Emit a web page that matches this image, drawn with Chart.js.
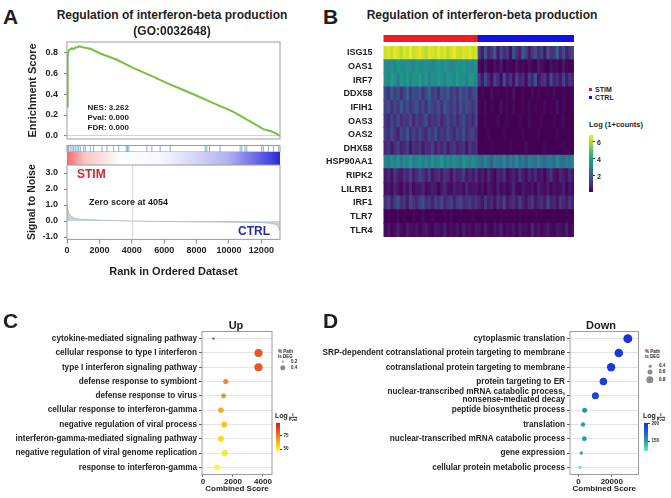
<!DOCTYPE html>
<html>
<head>
<meta charset="utf-8">
<title>Regulation of interferon-beta production</title>
<script src="https://cdn.jsdelivr.net/npm/chart.js@4.4.1/dist/chart.umd.min.js"></script>
<style>
  html, body { margin: 0; padding: 0; background: #fff; }
  #fig { position: relative; width: 671px; height: 498px; overflow: hidden; background: #fff;
         font-family: Arial, "Liberation Sans", Helvetica, sans-serif; color: #1e1e1e; }
  #fig canvas { position: absolute; }
  .t { position: absolute; white-space: nowrap; font-weight: bold; line-height: 1; }
  .mid { transform: translateY(-50%); }
  .ctr { transform: translate(-50%, -50%); }
  .letter { font-size: 21px; }
  .sq { position: absolute; width: 3px; height: 3px; }
  .dot { position: absolute; border-radius: 50%; background: #8a8a8a; transform: translate(-50%, -50%); }
  .frac { display: inline-block; vertical-align: -3px; font-size: 4px; text-align: center; margin-left: 1px; }
  .frac span { display: block; line-height: 1.1; }
  .frac .num { border-bottom: 0.5px solid #333; }
</style>
</head>
<body>
<div id="fig">
  <div id="charts"></div>

  <!-- panel letters -->
  <div class="t letter mid" style="left:3px; top:16px">A</div>
  <div class="t letter mid" style="left:323px; top:16px">B</div>
  <div class="t letter mid" style="left:3px; top:320px">C</div>
  <div class="t letter mid" style="left:323px; top:320px">D</div>

  <!-- panel A texts -->
  <div class="t ctr" style="left:172px; top:15px; font-size:12px">Regulation of interferon-beta production</div>
  <div class="t ctr" style="left:172px; top:30.5px; font-size:12px">(GO:0032648)</div>
  <div class="t mid" style="left:87.5px; top:107.7px; font-size:8px">NES: 3.262</div>
  <div class="t mid" style="left:87.5px; top:117.7px; font-size:8px">Pval: 0.000</div>
  <div class="t mid" style="left:87.5px; top:127.7px; font-size:8px">FDR: 0.000</div>
  <div class="t mid" style="left:77px; top:174px; font-size:12px; color:#e3232b">STIM</div>
  <div class="t mid" style="left:89px; top:202px; font-size:9px">Zero score at 4054</div>
  <div class="t mid" style="left:238px; top:231px; font-size:12px; color:#2b2ba8">CTRL</div>

  <!-- panel B texts -->
  <div class="t ctr" style="left:482px; top:15px; font-size:12px">Regulation of interferon-beta production</div>
  <div class="sq" style="left:589px; top:87.5px; background:#ee1c25"></div>
  <div class="t mid" style="left:595px; top:89px; font-size:7px">STIM</div>
  <div class="sq" style="left:589px; top:95.5px; background:#1010e8"></div>
  <div class="t mid" style="left:595px; top:97px; font-size:7px">CTRL</div>
  <div class="t mid" style="left:589px; top:125px; font-size:7.5px">Log (1+counts)</div>

  <!-- panel C / D texts -->
  <div class="t ctr" style="left:236px; top:325px; font-size:11px">Up</div>
  <div class="t ctr" style="left:601px; top:325px; font-size:11px">Down</div>
  <div class="t mid" style="left:278px; top:352px; font-size:4.5px">% Path</div>
  <div class="t mid" style="left:278px; top:357px; font-size:4.5px">is DEG</div>
  <div class="t mid" style="left:645px; top:352px; font-size:4.5px">% Path</div>
  <div class="t mid" style="left:645px; top:357px; font-size:4.5px">is DEG</div>
  <div class="t mid" style="left:275px; top:417px; font-size:7px">Log<span class="frac"><span class="num">1</span><span>Pval</span></span></div>
  <div class="t mid" style="left:643px; top:417px; font-size:7px">Log<span class="frac"><span class="num">1</span><span>Pval</span></span></div>
</div>

<script>
// ---------- data: panel A (GSEA) ----------
const rankMax = 13150;
const esRank  = [0, 20, 60, 120, 200, 300, 400, 500, 650, 750, 900, 1100, 1450, 2050, 3080, 4110, 5140, 6170, 7190, 8220, 9250, 10280, 11300, 12120, 12600, 13000, 13150];
const esValue = [0.28, 0.55, 0.78, 0.82, 0.83, 0.84, 0.83, 0.845, 0.85, 0.858, 0.852, 0.845, 0.835, 0.79, 0.73, 0.65, 0.58, 0.505, 0.44, 0.37, 0.30, 0.23, 0.14, 0.065, 0.045, 0.015, 0.0];
const esTicks = [0, 0.2, 0.4, 0.6, 0.8];
const hitRanks = [40, 100, 200, 310, 410, 510, 620, 720, 820, 1030, 1130, 1440, 1640, 2160, 2470, 2880, 3190, 3660, 3740, 3820,
                  4930, 5240, 5750, 6370, 8530, 8630, 8800, 9450, 10690, 10790, 10990, 11100, 12020, 12120, 12430, 12740, 13050];
const s2nRank  = [0, 30, 100, 200, 400, 700, 1000, 2000, 3000, 4054, 5000, 7000, 9000, 11000, 12000, 12600, 12900, 13050, 13150];
const s2nValue = [1.0, 0.75, 0.5, 0.35, 0.2, 0.12, 0.09, 0.05, 0.02, 0, -0.02, -0.04, -0.06, -0.08, -0.1, -0.14, -0.22, -0.35, -0.6];
const s2nTicks = [-1, 0, 1, 2, 3];
const rankTicks = [0, 2000, 4000, 6000, 8000, 10000, 12000];
const zeroScoreRank = 4054;

// ---------- data: panel B (heatmap) ----------
const genes = ['ISG15', 'OAS1', 'IRF7', 'DDX58', 'IFIH1', 'OAS3', 'OAS2', 'DHX58', 'HSP90AA1', 'RIPK2', 'LILRB1', 'IRF1', 'TLR7', 'TLR4'];
const stimExpr = [
  [6.3,6.5,6.2,6.6,6.4,6.1,6.5,6.3,6.7,6.2,6.4,6.6,6.3,6.0,6.5,6.4,6.2,6.6,6.3,6.5,6.1,6.4,6.7,6.3,6.2,6.5,6.4,6.6,6.2,6.4],
  [3.4,3.3,3.5,3.2,3.6,3.4,3.3,3.5,3.4,3.2,3.6,3.3,3.4,3.5,3.3,3.2,3.4,3.6,3.3,3.5,3.4,3.2,3.3,3.5,3.4,3.6,3.3,3.4,3.2,3.5],
  [3.5,3.2,3.8,3.4,3.0,3.6,3.3,3.7,3.1,3.5,3.4,3.8,3.2,3.6,3.0,3.5,3.3,3.7,3.4,3.1,3.6,3.5,3.2,3.8,3.3,3.4,3.0,3.6,3.5,3.2],
  [1.6,1.1,2.0,1.3,1.8,1.0,1.5,2.2,1.2,1.7,1.4,1.9,1.1,1.6,2.1,1.3,1.5,1.0,1.8,1.4,2.0,1.2,1.6,1.1,1.9,1.4,1.7,1.0,1.5,1.8],
  [1.4,1.8,1.0,1.6,1.2,2.0,1.3,1.7,1.1,1.5,1.9,1.2,1.6,1.0,1.8,1.4,1.3,1.7,1.1,1.9,1.5,1.2,1.6,1.0,1.8,1.3,1.7,1.4,1.1,1.6],
  [1.2,0.8,1.5,1.0,1.7,0.9,1.3,1.1,1.6,0.8,1.4,1.0,1.2,1.8,0.9,1.3,1.1,1.5,0.8,1.2,1.6,1.0,1.4,0.9,1.3,1.7,1.0,1.2,0.8,1.5],
  [1.3,0.9,1.6,1.1,0.7,1.5,1.2,1.8,0.9,1.4,1.0,1.6,1.2,0.8,1.5,1.1,1.7,0.9,1.3,1.0,1.6,1.2,0.8,1.4,1.1,1.7,0.9,1.3,1.5,1.0],
  [0.8,1.2,0.6,1.0,1.4,0.7,0.9,1.3,0.5,1.1,0.8,1.2,0.6,1.0,0.9,1.4,0.7,1.1,0.8,1.3,0.6,1.0,1.2,0.7,0.9,1.1,0.5,1.3,0.8,1.0],
  [3.2,2.9,3.4,3.0,3.5,2.8,3.3,3.1,3.6,2.9,3.2,3.4,3.0,3.3,2.8,3.5,3.1,3.2,3.6,2.9,3.3,3.0,3.4,3.1,2.8,3.5,3.2,3.0,3.3,3.1],
  [0.6,0.9,0.4,1.2,0.7,0.5,1.0,0.8,1.4,0.6,0.9,1.5,1.1,0.7,1.3,0.5,0.8,1.0,0.6,1.2,0.9,0.4,1.1,0.7,0.8,1.3,0.5,0.9,0.6,1.0],
  [0.4,0.6,0.3,0.8,0.5,0.2,0.7,0.4,0.9,0.3,0.6,0.5,0.8,0.3,0.4,0.7,0.5,0.2,0.6,0.9,0.4,0.3,0.7,0.5,0.6,0.3,0.8,0.4,0.5,0.6],
  [1.0,1.6,0.7,1.3,1.8,0.9,1.2,0.6,1.5,1.1,0.8,1.4,1.7,0.9,1.2,0.7,1.3,1.0,1.6,0.8,1.1,1.4,0.7,1.2,1.5,0.9,1.0,1.3,0.8,1.1],
  [0.1,0.2,0.1,0.1,0.3,0.1,0.2,0.1,0.1,0.2,0.1,0.1,0.3,0.1,0.1,0.2,0.1,0.1,0.1,0.2,0.1,0.3,0.1,0.1,0.2,0.1,0.1,0.1,0.2,0.1],
  [0.3,0.5,0.2,0.4,0.7,0.3,0.2,0.6,0.4,0.3,0.5,0.2,0.4,0.6,0.3,0.2,0.5,0.4,0.3,0.7,0.2,0.4,0.3,0.5,0.2,0.6,0.3,0.4,0.2,0.5]
];
const ctrlExpr = [
  [1.4,0.6,1.9,0.8,1.2,2.1,0.5,1.6,0.9,1.3,0.4,1.8,1.1,0.7,2.0,1.5,0.6,1.2,1.7,0.9,1.4,0.5,1.9,1.0,1.3,2.2,0.8,1.6,0.7,1.1,1.8],
  [0.3,0.1,0.5,0.2,0.1,0.4,0.2,0.6,0.1,0.3,0.2,0.1,0.5,0.2,0.3,0.1,0.4,0.2,0.1,0.6,0.3,0.2,0.1,0.4,0.2,0.3,0.1,0.5,0.2,0.1,0.3],
  [1.2,0.5,1.6,0.8,0.4,1.4,0.9,0.3,1.7,0.6,1.1,0.4,1.5,0.7,1.0,0.3,1.3,0.8,1.8,0.5,0.9,1.2,0.4,1.6,0.7,1.0,0.5,1.4,0.6,1.1,0.8],
  [0.1,0.2,0.1,0.1,0.3,0.1,0.2,0.1,0.1,0.2,0.1,0.4,0.1,0.1,0.2,0.1,0.1,0.3,0.1,0.2,0.1,0.1,0.2,0.1,0.3,0.1,0.1,0.2,0.1,0.1,0.2],
  [0.2,0.1,0.3,0.1,0.2,0.1,0.1,0.4,0.1,0.2,0.1,0.3,0.1,0.1,0.2,0.1,0.3,0.1,0.2,0.1,0.1,0.3,0.1,0.2,0.1,0.4,0.1,0.2,0.1,0.1,0.2],
  [0.1,0.1,0.2,0.1,0.1,0.1,0.3,0.1,0.1,0.2,0.1,0.1,0.1,0.2,0.1,0.1,0.3,0.1,0.1,0.1,0.2,0.1,0.1,0.1,0.2,0.1,0.1,0.3,0.1,0.1,0.1],
  [0.1,0.1,0.1,0.2,0.1,0.1,0.1,0.1,0.2,0.1,0.1,0.1,0.1,0.1,0.2,0.1,0.1,0.1,0.1,0.2,0.1,0.1,0.1,0.1,0.1,0.2,0.1,0.1,0.1,0.1,0.1],
  [0.1,0.1,0.1,0.1,0.2,0.1,0.1,0.1,0.1,0.1,0.2,0.1,0.1,0.1,0.1,0.3,0.1,0.1,0.1,0.1,0.1,0.2,0.1,0.1,0.1,0.1,0.1,0.2,0.1,0.1,0.1],
  [2.8,2.4,3.1,2.6,2.2,3.0,2.7,2.5,3.2,2.3,2.9,2.6,3.3,2.4,2.8,2.2,3.0,2.7,2.5,3.1,2.6,2.3,2.9,2.8,2.4,3.2,2.6,2.5,3.0,2.7,3.3],
  [0.4,0.7,0.3,0.9,0.5,0.2,0.8,0.6,1.0,0.3,0.5,0.7,0.4,1.1,0.6,0.3,0.8,0.5,0.9,0.4,0.6,0.2,0.7,1.0,0.5,0.3,0.8,0.6,0.4,0.9,0.5],
  [0.3,0.5,0.2,0.6,0.4,0.2,0.7,0.3,0.5,0.2,0.4,0.8,0.3,0.2,0.6,0.4,0.3,0.5,0.2,0.7,0.4,0.3,0.6,0.2,0.5,0.3,0.4,0.7,0.2,0.5,0.3],
  [0.8,0.5,1.2,0.6,0.9,0.4,1.1,0.7,1.4,0.5,0.8,1.0,0.6,1.3,0.7,0.4,0.9,1.2,0.5,0.8,1.0,0.6,1.5,0.7,0.9,0.5,1.1,0.8,0.6,1.2,0.7],
  [0.1,0.1,0.2,0.1,0.1,0.1,0.1,0.2,0.1,0.1,0.1,0.1,0.1,0.2,0.1,0.1,0.1,0.1,0.2,0.1,0.1,0.1,0.1,0.1,0.2,0.1,0.1,0.1,0.2,0.1,0.1],
  [0.4,0.2,0.6,0.3,0.2,0.5,0.3,0.7,0.2,0.4,0.3,0.5,0.2,0.6,0.3,0.4,0.2,0.8,0.3,0.5,0.2,0.4,0.6,0.3,0.2,0.5,0.4,0.3,0.7,0.2,0.4]
];
const heatTicks = [2, 4, 6];

// ---------- data: panels C and D (enrichment dot plots) ----------
const upTerms = ['cytokine-mediated signaling pathway', 'cellular response to type I interferon', 'type I interferon signaling pathway',
  'defense response to symbiont', 'defense response to virus', 'cellular response to interferon-gamma',
  'negative regulation of viral process', 'interferon-gamma-mediated signaling pathway',
  'negative regulation of viral genome replication', 'response to interferon-gamma'];
const upScore  = [700, 3700, 3700, 1520, 1380, 1200, 1420, 1200, 1460, 950];
const upPctDEG = [0.19, 0.58, 0.58, 0.39, 0.37, 0.40, 0.43, 0.43, 0.46, 0.41];
const upLogP   = [97, 84, 84, 72, 71, 66, 60, 56, 52, 49];
const upTicks  = [0, 2000, 4000];

const downTerms = ['cytoplasmic translation', 'SRP-dependent cotranslational protein targeting to membrane',
  'cotranslational protein targeting to membrane', 'protein targeting to ER',
  ['nuclear-transcribed mRNA catabolic process,', 'nonsense-mediated decay'], 'peptide biosynthetic process',
  'translation', 'nuclear-transcribed mRNA catabolic process', 'gene expression', 'cellular protein metabolic process'];
const downScore  = [29600, 24200, 19600, 15000, 10200, 3800, 2800, 3600, 1800, 1000];
const downPctDEG = [0.93, 0.90, 0.88, 0.82, 0.77, 0.60, 0.55, 0.58, 0.48, 0.45];
const downLogP   = [200, 198, 196, 194, 191, 152, 150, 151, 145, 126];
const downTicks  = [0, 20000];

// ---------- colour helpers ----------
const viridis = ['#440154', '#482878', '#3e4989', '#31688e', '#26828e', '#1f9e89', '#35b779', '#6ece58', '#b5de2b', '#fde725'];
const heatStops = viridis.map((c, i) => [0.1 + i * 6.7 / 9, c]);
const upStops = [[47, '#ffff2e'], [61, '#fbbf24'], [75, '#f47a20'], [99, '#d7191c']];
const downStops = [[122, '#5ff5c0'], [150, '#2a9ca5'], [175, '#1f63c6'], [202, '#1a2ee0']];

function hexToRgb(h) {
  const n = parseInt(h.slice(1), 16);
  return [n >> 16, (n >> 8) & 255, n & 255];
}
function mix(a, b, f) {
  const x = hexToRgb(a), y = hexToRgb(b);
  return 'rgb(' + x.map((v, i) => Math.round(v + (y[i] - v) * f)).join(',') + ')';
}
function scaleColor(stops, v) {
  if (v <= stops[0][0]) return stops[0][1];
  for (let i = 1; i < stops.length; i++) {
    if (v <= stops[i][0]) {
      const [v0, c0] = stops[i - 1], [v1, c1] = stops[i];
      return mix(c0, c1, (v - v0) / (v1 - v0));
    }
  }
  return stops[stops.length - 1][1];
}
const upRadius = p => 1.2 + (p - 0.2) * 7.5;
const downRadius = p => 1.3 + (p - 0.4) * 6;

// ---------- chart helpers ----------
Chart.defaults.font.family = 'Arial, "Liberation Sans", Helvetica, sans-serif';
Chart.defaults.font.weight = 'bold';
Chart.defaults.color = '#1e1e1e';
Chart.defaults.plugins.legend.display = false;
Chart.defaults.plugins.tooltip.enabled = false;

function addCanvas(left, top, w, h) {
  const c = document.createElement('canvas');
  c.width = w; c.height = h;
  Object.assign(c.style, { left: left + 'px', top: top + 'px', width: w + 'px', height: h + 'px' });
  document.getElementById('charts').appendChild(c);
  return c;
}
const fixedTicks = values => s => { s.ticks = values.map(v => ({ value: v })); };
const fixWidth = w => s => { s.width = w; s.paddingTop = 0; s.paddingBottom = 0; };
const fixHeight = h => s => { s.height = h; s.paddingLeft = 0; s.paddingRight = 0; };
const base = { responsive: false, animation: false, devicePixelRatio: 1 };

// box around the plotting area
const framePlugin = {
  id: 'frame',
  afterDraw(chart, args, opts) {
    const a = chart.chartArea, ctx = chart.ctx;
    ctx.save();
    ctx.strokeStyle = opts.color || '#9c9c9c';
    ctx.lineWidth = opts.width || 1;
    ctx.strokeRect(a.left, a.top, a.right - a.left, a.bottom - a.top);
    ctx.restore();
  }
};

// ---------- A1: enrichment score ----------
new Chart(addCanvas(0, 30, 300, 110), {
  type: 'line',
  data: { datasets: [{
    data: esRank.map((r, i) => ({ x: r, y: esValue[i] })),
    borderColor: '#79bf41', borderWidth: 2, pointRadius: 0, tension: 0
  }] },
  options: { ...base,
    layout: { padding: { left: 22, right: 20, top: 12, bottom: 1 } },
    scales: {
      x: { type: 'linear', min: 0, max: rankMax, display: false },
      y: { min: -0.03, max: 0.9, afterBuildTicks: fixedTicks(esTicks), afterFit: fixWidth(45),
           ticks: { font: { size: 9 }, padding: 6, callback: v => v.toFixed(1) },
           grid: { color: c => (c.tick && c.tick.value === 0) ? '#d2d2d2' : 'rgba(0,0,0,0)', tickColor: '#888', tickLength: 3 },
           border: { display: false },
           title: { display: true, text: 'Enrichment Score', font: { size: 11 } } }
    }
  },
  plugins: [framePlugin]
});

// ---------- A2: hit positions + ranked list colour bar ----------
const rankBarPlugin = {
  id: 'rankBar',
  afterDraw(chart) {
    const { ctx, chartArea: a } = chart;
    const g = ctx.createLinearGradient(a.left, 0, a.right, 0);
    g.addColorStop(0, '#f26a6a'); g.addColorStop(0.08, '#f8c2c2'); g.addColorStop(0.25, '#ffffff');
    g.addColorStop(0.45, '#f6f6ff'); g.addColorStop(0.75, '#b4b4f2'); g.addColorStop(0.95, '#4848e2'); g.addColorStop(1, '#2828d6');
    ctx.save();
    ctx.fillStyle = g;
    ctx.fillRect(a.left, a.bottom, a.right - a.left, 13);
    ctx.restore();
  }
};
new Chart(addCanvas(0, 139, 300, 27), {
  type: 'scatter',
  data: { datasets: [{
    data: hitRanks.map(r => ({ x: r, y: 0.5 })),
    pointStyle: 'line', rotation: 90, radius: 5.5, borderColor: '#84b2d6', borderWidth: 1
  }] },
  options: { ...base,
    layout: { padding: { left: 67, right: 20, top: 2, bottom: 14 } },
    scales: {
      x: { type: 'linear', min: 0, max: rankMax, display: false },
      y: { min: 0, max: 1, display: false }
    }
  },
  plugins: [framePlugin, rankBarPlugin]
});

// ---------- A3: signal to noise ----------
const s2nMin = -1.15, s2nMax = 3.5;
new Chart(addCanvas(0, 150, 300, 133), {
  type: 'line',
  data: { datasets: [
    { data: [{ x: zeroScoreRank, y: s2nMin }, { x: zeroScoreRank, y: s2nMax }],
      borderColor: '#d6d6d6', borderWidth: 1, pointRadius: 0 },
    { data: s2nRank.map((r, i) => ({ x: r, y: s2nValue[i] })),
      borderColor: '#b2bdca', borderWidth: 1, backgroundColor: '#c9d2dd', fill: 'origin', pointRadius: 0, tension: 0 }
  ] },
  options: { ...base,
    layout: { padding: { left: 22, right: 20, top: 15, bottom: 0 } },
    scales: {
      x: { type: 'linear', min: 0, max: rankMax, afterBuildTicks: fixedTicks(rankTicks), afterFit: fixHeight(43.6),
           ticks: { font: { size: 9 }, padding: 2, maxRotation: 0, autoSkip: false, callback: v => String(v) },
           grid: { drawOnChartArea: false, tickColor: '#888', tickLength: 4 },
           border: { display: false },
           title: { display: true, text: 'Rank in Ordered Dataset', font: { size: 11 } } },
      y: { min: s2nMin, max: s2nMax, afterBuildTicks: fixedTicks(s2nTicks), afterFit: fixWidth(45),
           ticks: { font: { size: 9 }, padding: 6, callback: v => v.toFixed(1) },
           grid: { drawOnChartArea: false, tickColor: '#888', tickLength: 3 },
           border: { display: false },
           title: { display: true, text: 'Signal to Noise', font: { size: 10.5 } } }
    }
  },
  plugins: [framePlugin]
});

// ---------- B: heatmap ----------
const nStim = stimExpr[0].length, nCtrl = ctrlExpr[0].length, nCells = nStim + nCtrl;
const cellValue = (c, g) => (c < nStim ? stimExpr[g][c] : ctrlExpr[g][c - nStim]);
const heatDatasets = [];
for (let c = 0; c < nCells; c++) {
  heatDatasets.push({
    data: genes.map(() => [c, c + 1]),
    backgroundColor: ctx => scaleColor(heatStops, cellValue(c, ctx.dataIndex)),
    borderWidth: 0, inflateAmount: 0.5, grouped: false, barPercentage: 1, categoryPercentage: 1
  });
}
const groupBarPlugin = {
  id: 'groupBar',
  afterDraw(chart) {
    const { ctx, chartArea: a, scales: { x } } = chart;
    const x0 = x.getPixelForValue(0), xm = x.getPixelForValue(nStim), x1 = x.getPixelForValue(nCells);
    ctx.save();
    ctx.fillStyle = '#ee1c25'; ctx.fillRect(x0, a.top - 11, xm - x0, 7);
    ctx.fillStyle = '#1010e8'; ctx.fillRect(xm, a.top - 11, x1 - xm, 7);
    ctx.restore();
  }
};
new Chart(addCanvas(320, 30, 260, 212), {
  type: 'bar',
  data: { labels: genes, datasets: heatDatasets },
  options: { ...base, indexAxis: 'y',
    layout: { padding: { left: 0, right: 6, top: 16, bottom: 5 } },
    scales: {
      x: { type: 'linear', min: 0, max: nCells, display: false },
      y: { afterFit: fixWidth(63.5), ticks: { font: { size: 9 }, padding: 3, autoSkip: false, color: '#222' },
           grid: { display: false }, border: { display: false } }
    }
  },
  plugins: [groupBarPlugin]
});

// ---------- C / D: dot plots ----------
function dotPlot(canvas, terms, score, pct, logp, stops, radiusFn, xMin, xMax, xTicks, yWidth, pad) {
  return new Chart(canvas, {
    type: 'scatter',
    data: { datasets: [{
      data: score.map((s, i) => ({ x: s, y: i })),
      pointRadius: ctx => radiusFn(pct[ctx.dataIndex]),
      backgroundColor: ctx => scaleColor(stops, logp[ctx.dataIndex]),
      borderWidth: 0
    }] },
    options: { ...base,
      layout: { padding: pad },
      scales: {
        x: { type: 'linear', min: xMin, max: xMax, afterBuildTicks: fixedTicks(xTicks), afterFit: fixHeight(23.5),
             ticks: { font: { size: 8 }, padding: 0, maxRotation: 0, autoSkip: false, callback: v => String(v) },
             grid: { drawOnChartArea: false, tickColor: '#555', tickLength: 2 },
             border: { display: false },
             title: { display: true, text: 'Combined Score', font: { size: 8 }, padding: { top: 2, bottom: 4 } } },
        y: { type: 'category', labels: terms, offset: true, afterFit: fixWidth(yWidth),
             ticks: { font: { size: 8.2, lineHeight: 0.9 }, padding: 2, autoSkip: false, color: '#222' },
             grid: { color: '#e4e4e4', tickColor: '#555', tickLength: 3 },
             border: { display: false } }
      }
    },
    plugins: [framePlugin]
  });
}
dotPlot(addCanvas(0, 320, 280, 178), upTerms, upScore, upPctDEG, upLogP, upStops, upRadius,
        -60, 4600, upTicks, 202, { left: 0, right: 8, top: 11.5, bottom: 0 });
dotPlot(addCanvas(320, 320, 325, 178), downTerms, downScore, downPctDEG, downLogP, downStops, downRadius,
        -5000, 36000, downTicks, 250, { left: 0, right: 6.5, top: 11.5, bottom: 0 });

// ---------- legends (colour bars and size keys) ----------
const fig = document.getElementById('fig');
function el(cls, css, text) {
  const d = document.createElement('div');
  d.className = cls;
  Object.assign(d.style, css);
  if (text !== undefined) d.textContent = text;
  fig.appendChild(d);
  return d;
}
function colorBar(left, top, w, h, stops, vMin, vMax, ticks, fontSize) {
  const grad = stops.map(([v, c]) => c + ' ' + ((v - vMin) / (vMax - vMin) * 100).toFixed(1) + '%').join(', ');
  el('', { position: 'absolute', left: left + 'px', top: top + 'px', width: w + 'px', height: h + 'px',
           background: 'linear-gradient(to top, ' + grad + ')' });
  ticks.forEach(v => {
    const y = top + (vMax - v) / (vMax - vMin) * h;
    el('', { position: 'absolute', left: (left + w) + 'px', top: (y - 0.5) + 'px', width: '2px', height: '1px', background: '#333' });
    el('t mid', { left: (left + w + 4) + 'px', top: y + 'px', fontSize: fontSize + 'px' }, String(v));
  });
}
colorBar(589, 135, 4, 57, heatStops, 0.1, 6.8, heatTicks, 7);
colorBar(276, 423, 3.5, 28, upStops, 47, 99, [50, 75], 4.5);
colorBar(644, 423, 3.5, 28, downStops, 122, 202, [150, 200], 4.5);

function sizeKey(x, entries, radiusFn, labelLeft) {
  entries.forEach(([p, y]) => {
    const d = 2 * radiusFn(p);
    el('dot', { left: x + 'px', top: y + 'px', width: d + 'px', height: d + 'px' });
    el('t mid', { left: labelLeft + 'px', top: y + 'px', fontSize: '4.5px' }, p.toFixed(1));
  });
}
sizeKey(283, [[0.2, 362], [0.4, 368]], upRadius, 291);
sizeKey(650, [[0.4, 366], [0.6, 372.3], [0.8, 380]], downRadius, 659);
</script>
</body>
</html>
